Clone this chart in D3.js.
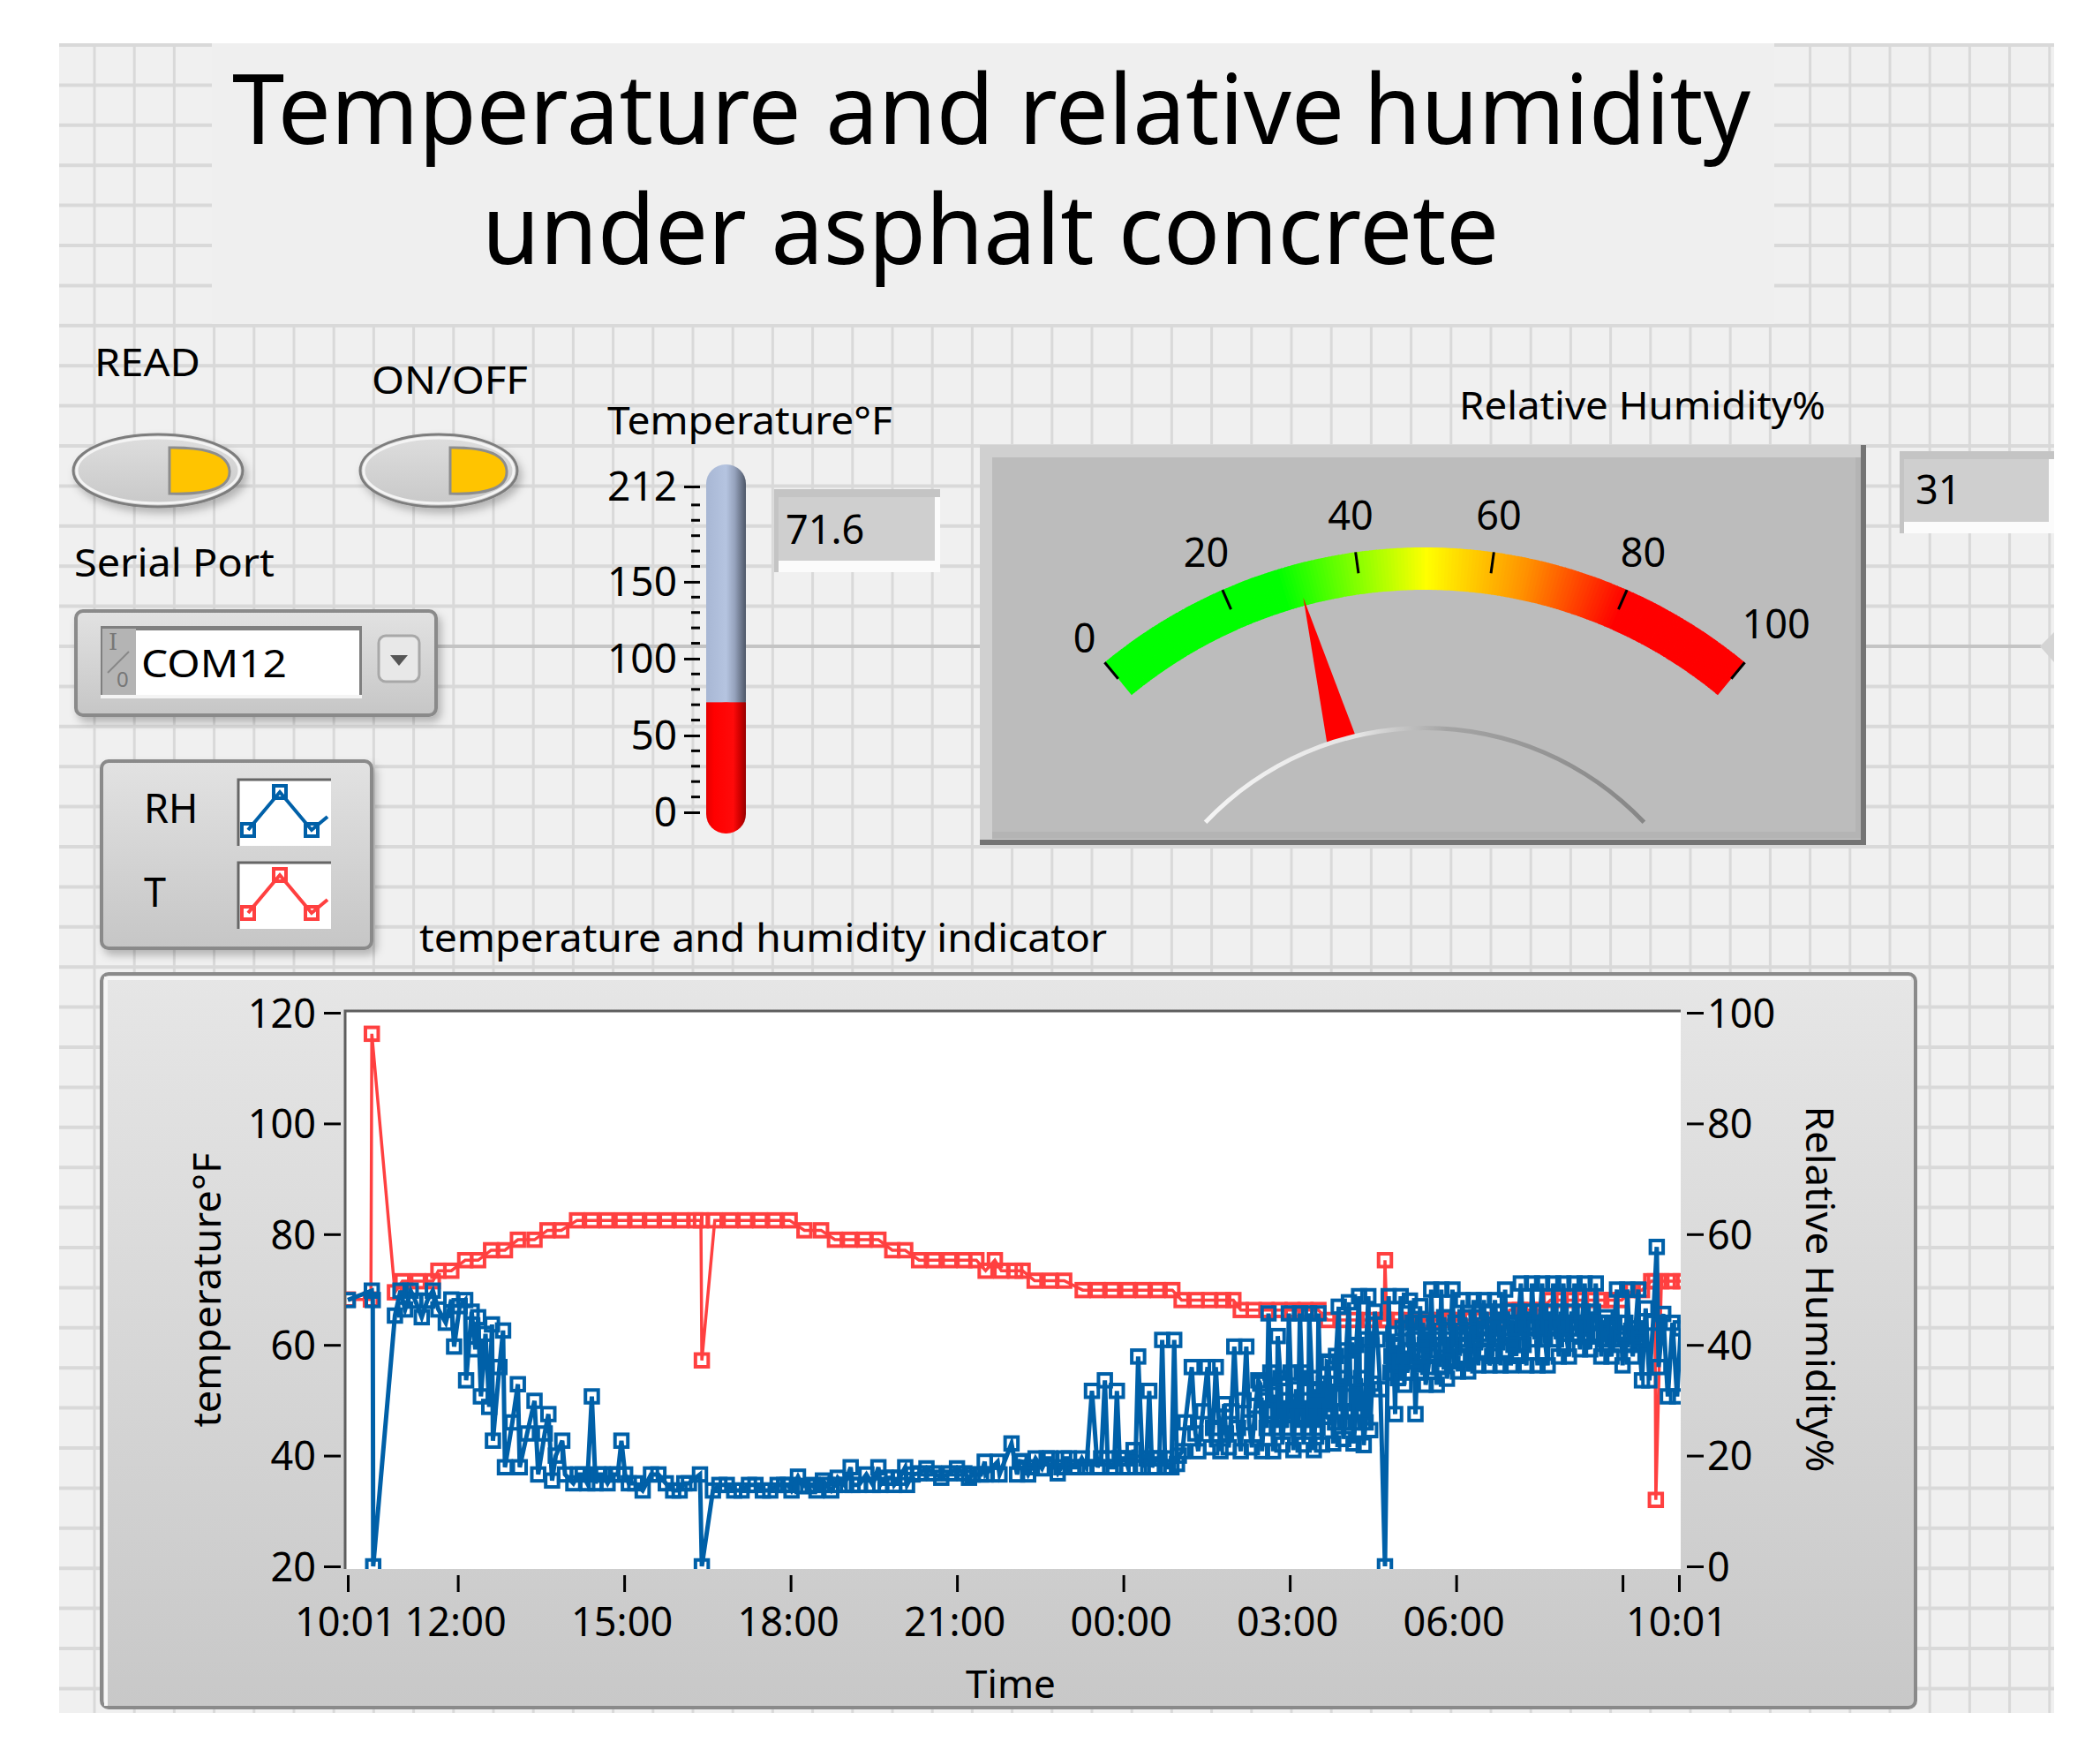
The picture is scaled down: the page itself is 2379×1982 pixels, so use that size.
<!DOCTYPE html>
<html>
<head>
<meta charset="utf-8">
<script src="https://cdnjs.cloudflare.com/ajax/libs/d3/7.8.5/d3.min.js"></script>
<style>
  body { margin: 0; background: #fff; }
  text { font-family: "Noto Sans", sans-serif; fill: #000; }
</style>
</head>
<body>
<svg id="panel" width="2379" height="1982"></svg>
<script>
// chart values
const titleWords = ["Temperature and relative", "humidity", "under asphalt concrete"];
const tempTicks = [20, 40, 60, 80, 100, 120];
const rhTicks = [0, 20, 40, 60, 80, 100];
const timeTicks = [0, 119, 299, 479, 659, 839, 1019, 1199, 1379, 1440];
const timeLabels = ["10:01", "12:00", "15:00", "18:00", "21:00", "00:00", "03:00", "06:00", "", "10:01"];
const thermoMajor = [0, 50, 100, 150, 212];
const thermoMinor = [10, 20, 30, 40, 60, 70, 80, 90, 110, 120, 130, 140, 160, 170, 180, 190, 200];
const gaugeTicks = [0, 20, 40, 60, 80, 100];
const gaugeLabelRadius = [606, 616, 612, 612, 616, 626];
const tempNow = 71.6;
const rhNow = 31;

// minutes after 10:01 and temperature in F
const tempMinutes = [
  0, 25, 26, 51, 59, 76, 92, 98, 112, 127, 141, 155, 170, 184, 202, 216, 231,
  248, 264, 280, 297, 313, 329, 345, 361, 376, 382, 383, 397, 414, 430, 446, 462, 478,
  494, 512, 527, 543, 559, 574, 589, 603, 618, 634, 651, 667, 680, 690, 700, 707, 722, 730, 743, 760, 775,
  795, 811, 827, 844, 860, 876, 892, 902, 918, 932, 947, 958, 966, 980, 994, 1008, 1022, 1036, 1050,
  1060, 1075, 1090, 1105, 1121, 1122, 1124, 1135, 1146, 1157, 1168, 1180, 1191, 1202, 1213, 1224, 1235, 1246,
  1257, 1268, 1279, 1290, 1301, 1312, 1323, 1334, 1345, 1356, 1367, 1378, 1390, 1400, 1410, 1414, 1415, 1421, 1432, 1442
];
const tempValues = [
  68.2, 68.2, 116.2, 69.5, 71.5, 71.5, 71.5, 73.4, 73.4, 75.3, 75.3, 77.1, 77.1, 79, 79, 80.7, 80.7,
  82.5, 82.5, 82.5, 82.5, 82.5, 82.5, 82.5, 82.5, 82.5, 82.5, 57.2, 82.5, 82.5, 82.5, 82.5, 82.5, 82.5,
  80.7, 80.7, 79, 79, 79, 79, 77.1, 77.1, 75.3, 75.3, 75.3, 75.3, 75.3, 73.4, 75.3, 73.4, 73.4, 73.4, 71.6, 71.6, 71.6,
  69.9, 69.9, 69.9, 69.9, 69.9, 69.9, 69.9, 68.1, 68.1, 68.1, 68.1, 68.1, 66.3, 66.3, 66.3, 66.3, 66.3, 66.3, 66.3,
  64.5, 64.5, 64.5, 64.5, 64.5, 75.3, 64.5, 64.5, 64.5, 64.5, 64.5, 64.5, 64.5, 64.5, 64.5, 64.5, 64.5, 64.5,
  66.3, 66.3, 66.3, 66.3, 68.1, 68.1, 68.1, 68.1, 68.1, 68.1, 68.1, 68.1, 69.9, 69.9, 71.5, 71.5, 32, 71.5, 71.5, 71.5
];

// minutes after 10:01 and relative humidity in %
const rhMinutes = [
  0, 26, 27, 27.5, 51, 57, 62, 68, 73, 80, 86, 92, 98, 106,
  112, 115, 121, 127, 128, 134, 138, 141, 144, 149, 153, 156, 157, 164, 168, 170, 178, 184, 186, 194, 202, 206, 213, 217, 221, 225, 232, 235, 244, 254, 259, 264, 271, 281, 292, 296, 304,
  311, 328, 344, 359, 369, 381, 383, 395, 410, 426, 441, 457, 472, 480, 487, 498, 507, 514, 523, 530, 544, 546, 561, 574, 576, 589, 591, 603, 605,
  618, 634, 651, 667, 676, 685, 689, 690, 703, 705, 718,
  724, 730, 736, 744, 751, 760, 768, 775, 784, 794, 799, 805, 811, 819, 825, 832, 838, 844, 850, 855, 860, 867, 874, 881, 887, 894, 897,
  903, 913, 920, 930, 934, 939, 944, 948, 953, 959, 966, 972, 978, 985, 989, 996, 1001, 1006, 1011, 1018, 1023, 1030, 1034, 1040, 1045, 1050,
  1054, 1061, 1066, 1072, 1077, 1083, 1088, 1094, 1099, 1104, 1106, 1111, 1117, 1122, 1126, 1133, 1139, 1143, 1149, 1155, 1160, 1166,
  1172, 1178, 1183, 1189, 1195, 1201, 1206, 1212, 1218, 1223, 1229, 1235, 1241, 1247, 1252, 1258, 1264, 1269, 1275, 1281, 1287, 1292, 1298, 1304,
  1310, 1315, 1321, 1327, 1333, 1338, 1344, 1350, 1356, 1361, 1367, 1373, 1379, 1384, 1390, 1396, 1400, 1404, 1408, 1412, 1416, 1418, 1423, 1428, 1433, 1438, 1442
];
const rhValues = [
  48.1, 49.8, 48.1, 0, 45.3, 49.8, 46.4, 49.8, 48, 45, 48, 49.8, 46.4, 44,
  48.2, 39.7, 47, 48.1, 33.6, 46, 39.2, 45, 30.7, 42, 28.8, 43.7, 22.7, 36, 42.6, 17.9, 26, 32.9, 17.9, 24, 29.9, 16.6, 24, 27.5, 15.5, 20, 22.7, 16.6, 15, 16.6, 15, 30.7, 16.6, 15, 16.6, 22.7, 15,
  15, 16.6, 15, 13.7, 15, 16.6, 0, 13.7, 14.7, 13.7, 14.7, 13.7, 14.7, 13.7, 16.2, 14.5, 13.7, 15.5, 13.7, 16, 17.9, 14.7, 16.6, 17.9, 14.7, 16, 14.7, 17.9, 14.7,
  16.8, 16.8, 16.8, 16.8, 16.6, 16.6, 18.9, 16.6, 18.9, 16.6, 22.2,
  16.6, 18.9, 16.6, 19.5, 17.7, 19.5, 16.8, 19.5, 17.9, 19.5, 17.9, 31.7, 17.9, 33.6, 17.9, 31.7, 19.5, 17.9, 21, 37.9, 17.9, 31.7, 19.5, 40.9, 17.9, 40.9, 18.5,
  20.8, 36, 20.8, 36, 21.5, 36, 20.8, 29.3, 21.5, 39.7, 20.8, 39.7, 21.5, 33.6, 20.8, 45.7, 20.8, 41.6, 22, 45.7, 21, 45.7, 22, 45.7, 21, 45.7,
  22, 36.8, 22.2, 46.9, 23, 47.7, 22.2, 48.8, 21.9, 48.8, 24.6, 46, 32, 0, 48.8, 27.5, 48.8, 32.8, 48, 27.5, 47, 32.8,
  50, 32.8, 50, 33.9, 50, 35.2, 48.1, 35.2, 48.1, 36.3, 48.1, 36.3, 48.1, 36.3, 50, 36.3, 38, 51.1, 36.3, 51.1, 36.3, 51.1, 36.3, 51.1,
  37.9, 51.1, 37.9, 51.1, 39.2, 51.1, 39.2, 51.1, 37.9, 45, 37.9, 50, 36.3, 50, 37.9, 50, 33.6, 46.6, 33.6, 44, 57.7, 36, 45.6, 30.7, 44, 30.7, 43
];

// further humidity samples where the markers pile up into a solid band
const rhBandMinutes = [
  249, 268, 276, 286, 300, 319, 336, 352, 364, 402, 418, 434, 449, 465, 476, 492, 503, 518, 527, 537, 553, 568, 582, 597, 611, 626, 642, 659, 672,
  727, 740, 756, 772, 780, 789, 815, 822, 829, 835, 841, 852, 864, 870, 878, 884, 891, 899,
  906, 917, 925, 936, 942, 950, 956, 963, 969, 975, 982,
  987, 992, 994, 998, 1000, 1003, 1005, 1009, 1010, 1014, 1016, 1020, 1021, 1026, 1028, 1032, 1033, 1037, 1039, 1043, 1044, 1048, 1049,
  1056, 1058, 1059, 1063, 1064, 1068, 1069, 1074, 1075, 1079, 1080, 1085, 1086, 1090, 1091, 1095, 1096, 1101, 1102, 1108, 1114,
  1128, 1129, 1131, 1134, 1136, 1138, 1141, 1144, 1146, 1148, 1152, 1153, 1157, 1158, 1161, 1163, 1165, 1169, 1170, 1174, 1175, 1179, 1181, 1184, 1186, 1188, 1192, 1193, 1197,
  1198, 1202, 1203, 1207, 1209, 1211, 1215, 1216, 1220, 1221, 1225, 1226, 1230, 1232, 1234, 1238, 1239, 1243, 1244, 1248, 1250, 1253, 1255, 1257, 1261, 1262, 1266, 1267, 1271, 1272, 1276, 1278, 1280, 1284, 1285, 1289, 1290, 1294, 1295, 1299, 1301, 1303, 1307, 1308,
  1312, 1313, 1317, 1318, 1322, 1324, 1326, 1330, 1331, 1335, 1336, 1340, 1341, 1345, 1347, 1349, 1353, 1354, 1358, 1359, 1363, 1364, 1368, 1370, 1374, 1376, 1378, 1382, 1383, 1387, 1388, 1392, 1393, 1397
];
const rhBandValues = [
  16.6, 15, 16.6, 16.6, 16.6, 13.7, 16.6, 13.7, 15, 14.7, 13.7, 14.7, 13.7, 14.7, 14.7, 14.5, 14.7, 14.7, 14.7, 14.7, 14.7, 14.7, 16, 16, 16.6, 17.7, 16, 17.7, 16,
  19, 17.9, 19.5, 17.9, 19.5, 17.9, 19.5, 19.5, 17.9, 19.5, 19.5, 17.9, 19.5, 17.9, 19.5, 19.5, 17.9, 20,
  26, 24, 28, 25, 27, 24, 28, 25, 30, 26, 29,
  33, 30, 25, 35, 28, 31, 25, 34, 28, 30, 25, 35, 28, 32, 25, 35, 27, 30, 25, 34, 28, 32, 25,
  33, 27, 37, 28, 33, 26, 38, 28, 34, 26, 39, 28, 33, 26, 40, 28, 34, 26, 41, 33, 41,
  35, 38, 42, 40, 34, 37, 43, 39, 35, 37, 44, 41, 38, 35, 39, 44, 40, 36, 38, 41, 44, 39, 36, 40, 45, 39, 37, 41, 40,
  44, 41, 38, 42, 45, 40, 38, 42, 41, 45, 42, 39, 43, 46, 41, 38, 43, 42, 46, 43, 39, 43, 46, 42, 40, 44, 43, 46, 44, 40, 43, 46, 44, 41, 43, 44, 46, 43, 41, 44, 46, 43, 41, 44,
  46, 43, 44, 42, 43, 46, 44, 42, 43, 44, 46, 43, 42, 44, 46, 44, 42, 44, 44, 41, 43, 41, 41, 44, 42, 40, 41, 44, 42, 40, 42, 42, 43, 41
];

// little pictures in the plot legend
const legendIconX = [0, 1, 2, 2.5];
const legendIconY = [0, 1, 0, 0.35];

const RED = "#ff4040", BLUE = "#0060a8";

const svg = d3.select("#panel");
const defs = svg.append("defs");

function vGradient(id, stops) {
  const g = defs.append("linearGradient").attr("id", id).attr("x1", 0).attr("y1", 0).attr("x2", 0).attr("y2", 1);
  stops.forEach(s => g.append("stop").attr("offset", s[0]).attr("stop-color", s[1]));
}
function hGradient(id, stops) {
  const g = defs.append("linearGradient").attr("id", id).attr("x1", 0).attr("y1", 0).attr("x2", 1).attr("y2", 0);
  stops.forEach(s => g.append("stop").attr("offset", s[0]).attr("stop-color", s[1]));
}
vGradient("panelFill", [[0, "#e6e6e6"], [1, "#c8c8c8"]]);
vGradient("smallPanelFill", [[0, "#e2e2e2"], [1, "#c6c6c6"]]);
vGradient("switchFill", [[0, "#dedede"], [1, "#c8c8c8"]]);
hGradient("tubeBlue", [[0, "#a8b7d4"], [0.5, "#b5c4e0"], [0.72, "#95a2bc"], [1, "#4e5768"]]);
hGradient("tubeRed", [[0, "#e40000"], [0.2, "#ff0000"], [0.68, "#ff0a0a"], [0.85, "#d00000"], [1, "#960000"]]);
const dialGrad = defs.append("linearGradient").attr("id", "dialLine").attr("gradientUnits", "userSpaceOnUse")
  .attr("x1", -249).attr("y1", 0).attr("x2", 249).attr("y2", 0);
dialGrad.append("stop").attr("offset", 0).attr("stop-color", "#f4f4f4");
dialGrad.append("stop").attr("offset", 0.35).attr("stop-color", "#e4e4e4");
dialGrad.append("stop").attr("offset", 0.55).attr("stop-color", "#a4a4a4");
dialGrad.append("stop").attr("offset", 1).attr("stop-color", "#868686");
const shadow = defs.append("filter").attr("id", "shadow").attr("x", "-10%").attr("y", "-10%").attr("width", "125%").attr("height", "130%");
shadow.append("feDropShadow").attr("dx", 4).attr("dy", 6).attr("stdDeviation", 5).attr("flood-color", "#000").attr("flood-opacity", 0.25);
defs.append("clipPath").attr("id", "plotClip").append("rect")
  .attr("x", 392).attr("y", 1145).attr("width", 1512).attr("height", 632);

function label(str, x, y, size, anchor) {
  return svg.append("text").attr("x", x).attr("y", y)
    .style("font-size", size + "px").attr("text-anchor", anchor || "start").text(str);
}
function fitted(str, x, y, size, len) {
  return label(str, x, y, size).attr("textLength", len).attr("lengthAdjust", "spacingAndGlyphs");
}

// ---- diagram background with its grid
svg.append("rect").attr("x", 67).attr("y", 49).attr("width", 2260).attr("height", 1891).attr("fill", "#f0f0f0");
const grid = svg.append("g").attr("stroke", "#d9d9d9");
grid.selectAll(".v").data(d3.range(107, 2327, 45.2)).enter().append("line")
  .attr("x1", d => d).attr("x2", d => d).attr("y1", 49).attr("y2", 1940).attr("stroke-width", 3);
grid.selectAll(".h").data(d3.range(51, 1940, 45.4)).enter().append("line")
  .attr("y1", d => d).attr("y2", d => d).attr("x1", 67).attr("x2", 2327).attr("stroke-width", 4);
// wire running behind the controls
svg.append("line").attr("x1", 495).attr("x2", 1110).attr("y1", 732).attr("y2", 732).attr("stroke", "#c4c4c4").attr("stroke-width", 4);
svg.append("line").attr("x1", 2114).attr("x2", 2312).attr("y1", 732).attr("y2", 732).attr("stroke", "#c4c4c4").attr("stroke-width", 4);
svg.append("path").attr("d", "M2327,716L2311,732L2327,750Z").attr("fill", "#d4d4d4");

// ---- title
svg.append("rect").attr("x", 240).attr("y", 49).attr("width", 1770).attr("height", 318).attr("fill", "#efefef");
fitted(titleWords[0], 263, 163, 110, 1260);
fitted(titleWords[1], 1545, 163, 110, 438);
fitted(titleWords[2], 546, 299, 110, 1152);

// ---- the two switches
fitted("READ", 107, 426, 44, 120);
fitted("ON/OFF", 421, 446, 44, 177);
function drawSwitch(cx, rx, yellowLeft, yellowRight) {
  svg.append("ellipse").attr("cx", cx).attr("cy", 533).attr("rx", rx).attr("ry", 41)
    .attr("fill", "url(#switchFill)").attr("stroke", "#7d7d7d").attr("stroke-width", 3).attr("filter", "url(#shadow)");
  svg.append("ellipse").attr("cx", cx).attr("cy", 533).attr("rx", rx - 4).attr("ry", 37)
    .attr("fill", "none").attr("stroke", "#f4f4f4").attr("stroke-width", 3);
  svg.append("path")
    .attr("d", `M${yellowLeft},507 L${yellowLeft},559 Q${yellowRight + 2},561 ${yellowRight},533 Q${yellowRight - 2},506 ${yellowLeft},507Z`)
    .attr("fill", "#ffc400").attr("stroke", "#8d8d8d").attr("stroke-width", 3);
}
drawSwitch(179, 96, 192, 260);
drawSwitch(497, 89, 510, 574);

// ---- serial port selector
fitted("Serial Port", 84, 653, 44, 227);
svg.append("rect").attr("x", 86).attr("y", 692).attr("width", 408).attr("height", 118).attr("rx", 8)
  .attr("fill", "url(#smallPanelFill)").attr("stroke", "#8a8a8a").attr("stroke-width", 4).attr("filter", "url(#shadow)");
svg.append("rect").attr("x", 114).attr("y", 709).attr("width", 296).attr("height", 78).attr("fill", "#7f7f7f");
svg.append("rect").attr("x", 116).attr("y", 712).attr("width", 38).attr("height", 75).attr("fill", "#b4b4b4");
svg.append("rect").attr("x", 154).attr("y", 714).attr("width", 253).attr("height", 73).attr("fill", "#fff");
svg.append("rect").attr("x", 114).attr("y", 787).attr("width", 296).attr("height", 4).attr("fill", "#f4f4f4");
label("I", 123, 736, 26).style("fill", "#777").style("font-family", "'DejaVu Serif', serif");
svg.append("line").attr("x1", 122).attr("y1", 762).attr("x2", 146).attr("y2", 738).attr("stroke", "#888").attr("stroke-width", 2);
label("0", 132, 778, 24).style("fill", "#777");
fitted("COM12", 160, 767, 44, 165);
svg.append("rect").attr("x", 429).attr("y", 720).attr("width", 46).attr("height", 52).attr("rx", 8)
  .attr("fill", "#e8e8e8").attr("stroke", "#a8a8a8").attr("stroke-width", 3);
svg.append("path").attr("d", "M442,742L462,742L452,754Z").attr("fill", "#555");

// ---- thermometer
fitted("Temperature°F", 688, 492, 43, 323);
const thermoY = d3.scaleLinear().domain([0, 212]).range([920, 551]);
const thermoAxis = svg.append("g").attr("transform", "translate(793,0)")
  .call(d3.axisLeft(thermoY).tickValues(thermoMajor).tickSize(18).tickPadding(8));
thermoAxis.select(".domain").remove();
thermoAxis.selectAll("line").attr("stroke", "#000").attr("stroke-width", 3);
thermoAxis.selectAll("text").style("font-size", "46px").style("fill", "#000").attr("dy", "0.34em");
svg.append("g").selectAll("line").data(thermoMinor).enter().append("line")
  .attr("x1", 783).attr("x2", 793).attr("y1", d => thermoY(d)).attr("y2", d => thermoY(d))
  .attr("stroke", "#000").attr("stroke-width", 3);
svg.append("rect").attr("x", 800).attr("y", 526).attr("width", 45).attr("height", 290).attr("rx", 22).attr("fill", "url(#tubeBlue)");
svg.append("rect").attr("x", 800).attr("y", thermoY(tempNow)).attr("width", 45).attr("height", 944 - thermoY(tempNow))
  .attr("rx", 22).attr("fill", "url(#tubeRed)");
svg.append("rect").attr("x", 800).attr("y", thermoY(tempNow)).attr("width", 45).attr("height", 40).attr("fill", "url(#tubeRed)");

function readout(x, y, w, h, value, textX, baseline) {
  svg.append("rect").attr("x", x).attr("y", y).attr("width", w).attr("height", h).attr("fill", "#c4c4c4");
  svg.append("rect").attr("x", x + 5).attr("y", y + 9).attr("width", w - 5).attr("height", h - 9).attr("fill", "#fbfbfb");
  svg.append("rect").attr("x", x + 5).attr("y", y + 9).attr("width", w - 11).attr("height", h - 22).attr("fill", "#cfcfcf");
  label(value, textX, baseline, 45);
}
readout(877, 554, 188, 94, String(tempNow), 890, 616);

// ---- humidity gauge
fitted("Relative Humidity%", 1653, 475, 43, 415);
svg.append("rect").attr("x", 1110).attr("y", 504).attr("width", 1004).attr("height", 453).attr("fill", "#747474");
svg.append("rect").attr("x", 1110).attr("y", 504).attr("width", 998).attr("height", 447).attr("fill", "#d0d0d0");
svg.append("rect").attr("x", 1124).attr("y", 518).attr("width", 984).attr("height", 432).attr("fill", "#b4b4b4");
svg.append("rect").attr("x", 1124).attr("y", 518).attr("width", 978).attr("height", 424).attr("fill", "#bcbcbc");

const gaugeAngle = d3.scaleLinear().domain([0, 100]).range([-39.5, 39.5].map(d => d * Math.PI / 180));
const gaugeColor = d3.scaleLinear().domain([0, 28, 50, 65, 80, 100])
  .range(["#00ff00", "#00ff00", "#ffff00", "#ff9000", "#ff0000", "#ff0000"]);
const gauge = svg.append("g").attr("transform", "translate(1614,1190)");
const band = d3.arc().innerRadius(522).outerRadius(570);
gauge.selectAll(".band").data(d3.range(0, 100, 0.5)).enter().append("path")
  .attr("d", d => band({ startAngle: gaugeAngle(d), endAngle: gaugeAngle(d + 0.6 > 100 ? 100 : d + 0.6) }))
  .attr("fill", d => gaugeColor(d));
gauge.selectAll(".tick").data(gaugeTicks).enter().append("line")
  .attr("x1", d => 546 * Math.sin(gaugeAngle(d))).attr("y1", d => -546 * Math.cos(gaugeAngle(d)))
  .attr("x2", d => 570 * Math.sin(gaugeAngle(d))).attr("y2", d => -570 * Math.cos(gaugeAngle(d)))
  .attr("stroke", "#000").attr("stroke-width", 3);
gauge.selectAll("text").data(gaugeTicks).enter().append("text")
  .attr("x", (d, i) => gaugeLabelRadius[i] * Math.sin(gaugeAngle(d))).attr("y", (d, i) => -gaugeLabelRadius[i] * Math.cos(gaugeAngle(d)))
  .attr("dy", "0.36em").attr("text-anchor", "middle").style("font-size", "45px").text(d => d);
// needle
const needle = gaugeAngle(rhNow), spread = 2.6 * Math.PI / 180;
gauge.append("path").attr("fill", "#ff0000").attr("d", d3.line()([
  [531 * Math.sin(needle), -531 * Math.cos(needle)],
  [366 * Math.sin(needle + spread), -366 * Math.cos(needle + spread)],
  [366 * Math.sin(needle - spread), -366 * Math.cos(needle - spread)]
]) + "Z");
// raised hub edge
svg.append("path").attr("transform", "translate(1614,1167)")
  .attr("d", d3.arc().innerRadius(340).outerRadius(345).startAngle(-46.5 * Math.PI / 180).endAngle(46.5 * Math.PI / 180)())
  .attr("fill", "url(#dialLine)");

readout(2152, 511, 175, 93, String(rhNow), 2170, 571);

// ---- plot legend
svg.append("rect").attr("x", 115).attr("y", 862).attr("width", 306).attr("height", 212).attr("rx", 8)
  .attr("fill", "url(#smallPanelFill)").attr("stroke", "#8a8a8a").attr("stroke-width", 4).attr("filter", "url(#shadow)");
label("RH", 163, 932, 45);
label("T", 163, 1027, 45);
function legendIcon(top, color) {
  svg.append("rect").attr("x", 269).attr("y", top).attr("width", 106).attr("height", 76).attr("fill", "#fff");
  svg.append("path").attr("d", `M270,${top + 76}V${top + 1}H375`).attr("fill", "none").attr("stroke", "#666").attr("stroke-width", 3);
  const lx = d3.scaleLinear().domain([0, 2]).range([281, 353]);
  const ly = d3.scaleLinear().domain([0, 1]).range([top + 58, top + 15]);
  svg.append("path").attr("fill", "none").attr("stroke", color).attr("stroke-width", 4)
    .attr("d", d3.line().x(d => lx(d[0])).y(d => ly(d[1]))(d3.zip(legendIconX, legendIconY)));
  svg.append("g").selectAll("rect").data(d3.zip(legendIconX, legendIconY).slice(0, 3)).enter().append("rect")
    .attr("x", d => lx(d[0]) - 7).attr("y", d => ly(d[1]) - 7).attr("width", 14).attr("height", 14)
    .attr("fill", "none").attr("stroke", color).attr("stroke-width", 4);
}
legendIcon(882, BLUE);
legendIcon(976, RED);

// ---- main plot
fitted("temperature and humidity indicator", 475, 1078, 43, 779);
svg.append("rect").attr("x", 115).attr("y", 1103).attr("width", 2055).attr("height", 831).attr("rx", 8)
  .attr("fill", "url(#panelFill)").attr("stroke", "#8a8a8a").attr("stroke-width", 4);
svg.append("path").attr("d", "M120,1932V1108H2165").attr("fill", "none").attr("stroke", "#f6f6f6").attr("stroke-width", 4);
svg.append("rect").attr("x", 391).attr("y", 1144).attr("width", 1513).attr("height", 633).attr("fill", "#fff");
svg.append("path").attr("d", "M391,1777V1145H1904").attr("fill", "none").attr("stroke", "#5e5e5e").attr("stroke-width", 3);

const xTime = d3.scaleLinear().domain([0, 1440]).range([394, 1902]);
const yTemp = d3.scaleLinear().domain([20, 120]).range([1774, 1147]);
const yRh = d3.scaleLinear().domain([0, 100]).range([1774, 1147]);

function styleAxis(g) {
  g.select(".domain").remove();
  g.selectAll("line").attr("stroke", "#000").attr("stroke-width", 3);
  g.selectAll("text").style("font-size", "45px").style("fill", "#000");
}
const leftAxis = svg.append("g").attr("transform", "translate(386,0)")
  .call(d3.axisLeft(yTemp).tickValues(tempTicks).tickSize(19).tickPadding(9)).call(styleAxis);
const rightAxis = svg.append("g").attr("transform", "translate(1911,0)")
  .call(d3.axisRight(yRh).tickValues(rhTicks).tickSize(19).tickPadding(4)).call(styleAxis);
leftAxis.selectAll("text").attr("dy", "0.36em");
rightAxis.selectAll("text").attr("dy", "0.36em");
const timeAxis = svg.append("g").attr("transform", "translate(0,1784)")
  .call(d3.axisBottom(xTime).tickValues(timeTicks).tickSize(19).tickPadding(18)
    .tickFormat((d, i) => timeLabels[i])).call(styleAxis);
timeAxis.selectAll("text").attr("dx", -3);

label("Time", 1145, 1923, 44, "middle");
label("temperature°F", 0, 0, 43, "middle").attr("transform", "translate(250,1461) rotate(-90)")
  .attr("textLength", 311).attr("lengthAdjust", "spacingAndGlyphs");
label("Relative Humidity%", 0, 0, 43, "middle").attr("transform", "translate(2046,1460) rotate(90)")
  .attr("textLength", 415).attr("lengthAdjust", "spacingAndGlyphs");

const plot = svg.append("g").attr("clip-path", "url(#plotClip)");
function drawSeries(pts, y, color, width, wall) {
  plot.append("path").attr("fill", "none").attr("stroke", color).attr("stroke-width", width)
    .attr("d", d3.line().x(d => xTime(d[0])).y(d => y(d[1]))(pts));
  plot.append("g").selectAll("rect").data(pts).enter().append("rect")
    .attr("x", d => xTime(d[0]) - 7.25).attr("y", d => y(d[1]) - 7.25)
    .attr("width", 14.5).attr("height", 14.5)
    .attr("fill", "none").attr("stroke", color).attr("stroke-width", wall);
}
const tempPoints = d3.zip(tempMinutes, tempValues);
const rhPoints = d3.zip(rhMinutes, rhValues).concat(d3.zip(rhBandMinutes, rhBandValues))
  .sort((a, b) => d3.ascending(a[0], b[0]));
drawSeries(tempPoints, yTemp, RED, 3.5, 4);
drawSeries(rhPoints, yRh, BLUE, 5, 4);
</script>
</body>
</html>
